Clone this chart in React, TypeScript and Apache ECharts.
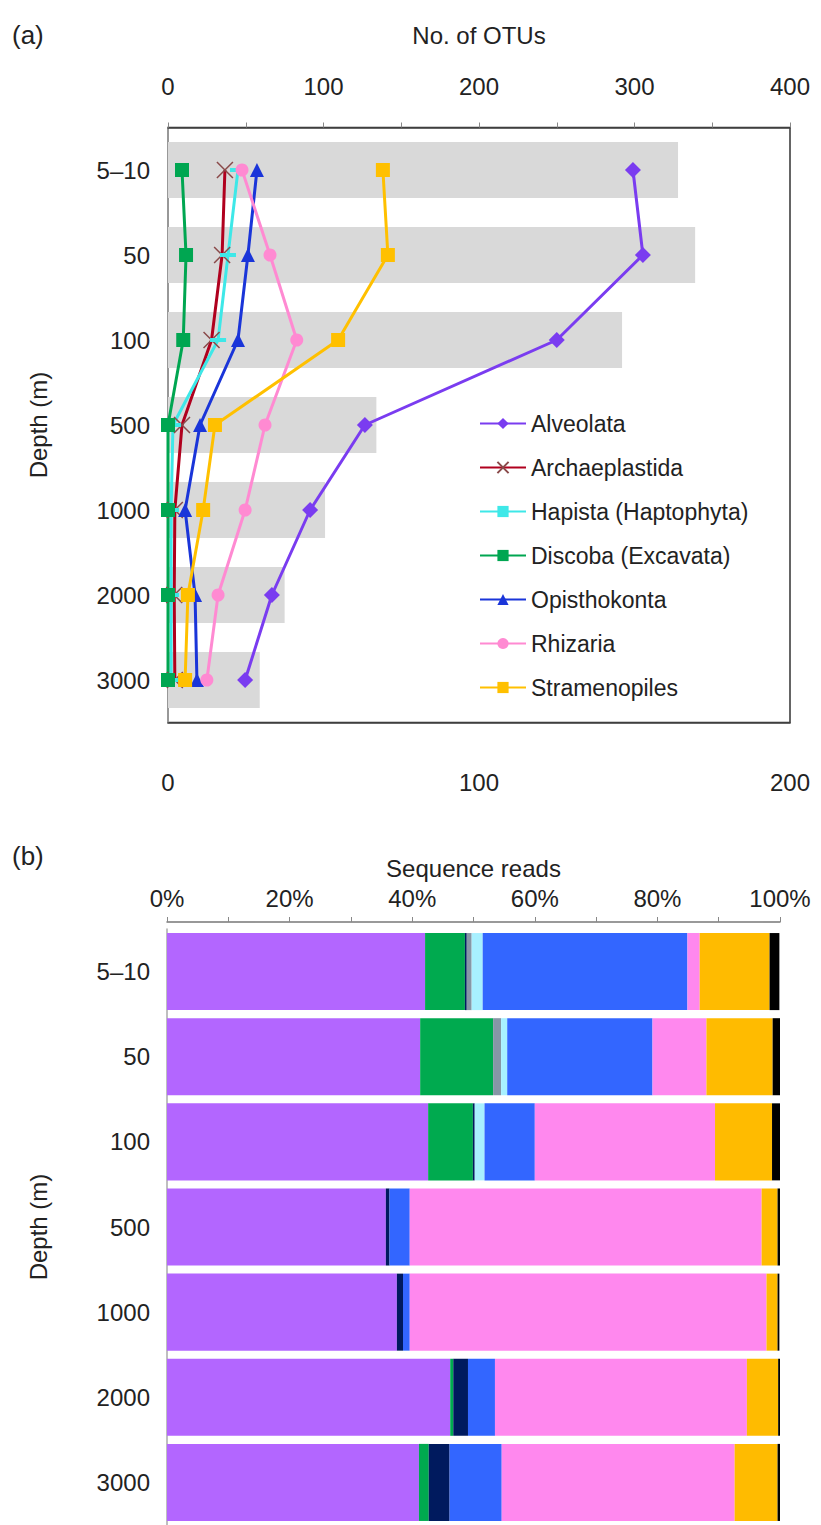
import React, { useEffect, useRef } from "react";
import * as echarts from "echarts";

// ---------- data ----------
const depths = ["5–10", "50", "100", "500", "1000", "2000", "3000"];

// panel (a): grey bars = total OTUs (top axis, 0–400)
const totalOtus = [328, 339, 292, 134, 101, 75, 59];

// panel (a): lines = OTUs per supergroup (bottom axis, 0–200)
const alveolata = [149.5, 152.7, 125, 63.3, 45.7, 33.4, 24.8];
const archaeplastida = [18.3, 17.4, 14, 4.5, 2.2, 2, 2.2];
const hapista = [22.5, 19.3, 16.1, 1.6, 1, 1, 1];
const discoba = [4.5, 5.8, 4.9, 0, 0, 0, 0];
const opisthokonta = [28.6, 25.7, 22.5, 10.3, 5.5, 8.7, 9.3];
const rhizaria = [23.8, 32.8, 41.4, 31.2, 24.8, 16.1, 12.5];
const stramenopiles = [69.1, 70.7, 54.7, 15.1, 11.3, 6.4, 5.5];

// panel (b): sequence reads, % (stacked)
const readsAlveolata = [42.1, 41.3, 42.6, 35.7, 37.5, 46.2, 41.1];
const readsDiscoba = [6.5, 11.9, 7.3, 0, 0, 0.5, 1.6];
const readsArchaeplastida = [0.3, 0, 0.3, 0.6, 1.0, 2.4, 3.4];
const readsOther = [0.8, 1.3, 0, 0, 0, 0, 0];
const readsHapista = [1.8, 1.0, 1.6, 0, 0, 0, 0];
const readsOpisthokonta = [33.4, 23.7, 8.2, 3.3, 1.1, 4.4, 8.5];
const readsRhizaria = [2.0, 8.8, 29.4, 57.4, 58.2, 41.1, 38.0];
const readsStramenopiles = [11.4, 10.8, 9.3, 2.6, 1.8, 5.1, 7.0];
const readsUnassigned = [1.6, 1.3, 1.3, 0.4, 0.3, 0.3, 0.4];

const otuTicks = [0, 100, 200, 300, 400];
const lineTicks = [0, 100, 200];
const pctTicks = [0, 20, 40, 60, 80, 100];

const FONT = "'Liberation Sans', Arial, Helvetica, sans-serif";
const TXT = "#222";

export default function App() {
  const ref = useRef<HTMLDivElement>(null);

  useEffect(() => {
    if (!ref.current) return;
    const chart = echarts.init(ref.current, null, { renderer: "svg" });

    const lineDefs = [
      { name: "Alveolata", data: alveolata, color: "#7a3cf0", symbol: "diamond", size: 16 },
      { name: "Archaeplastida", data: archaeplastida, color: "#b0001e", symbol: "path://M0,0L10,10M10,0L0,10", size: 16 },
      { name: "Hapista (Haptophyta)", data: hapista, color: "#3ee8e8", symbol: "rect", size: [16, 4] },
      { name: "Discoba (Excavata)", data: discoba, color: "#00a651", symbol: "rect", size: 14 },
      { name: "Opisthokonta", data: opisthokonta, color: "#1a35d9", symbol: "triangle", size: 14 },
      { name: "Rhizaria", data: rhizaria, color: "#ff8ad2", symbol: "circle", size: 13 },
      { name: "Stramenopiles", data: stramenopiles, color: "#ffc000", symbol: "rect", size: 14 },
    ];

    const lineSeries = lineDefs.map((d) => ({
      type: "line",
      name: d.name,
      xAxisIndex: 1,
      yAxisIndex: 0,
      data: d.data,
      symbol: d.symbol,
      symbolSize: d.size,
      showSymbol: true,
      lineStyle: { color: d.color, width: 3 },
      itemStyle:
        d.name === "Archaeplastida"
          ? { color: "#b0001e", borderColor: "#8a4a4a", borderWidth: 1.5 }
          : { color: d.color },
      z: 3,
    }));

    const barDefs = [
      { name: "r-Alveolata", data: readsAlveolata, color: "#b366ff" },
      { name: "r-Discoba", data: readsDiscoba, color: "#00aa4f" },
      { name: "r-Archaeplastida", data: readsArchaeplastida, color: "#001a5e" },
      { name: "r-Other", data: readsOther, color: "#8796a6" },
      { name: "r-Hapista", data: readsHapista, color: "#a8f0ff" },
      { name: "r-Opisthokonta", data: readsOpisthokonta, color: "#3366ff" },
      { name: "r-Rhizaria", data: readsRhizaria, color: "#ff88ee" },
      { name: "r-Stramenopiles", data: readsStramenopiles, color: "#ffbb00" },
      { name: "r-Unassigned", data: readsUnassigned, color: "#000000" },
    ];

    const barSeries = barDefs.map((d) => ({
      type: "bar",
      name: d.name,
      stack: "reads",
      xAxisIndex: 2,
      yAxisIndex: 1,
      data: d.data,
      barCategoryGap: "9.5%",
      itemStyle: { color: d.color },
    }));

    const option: any = {
      animation: false,
      textStyle: { fontFamily: FONT },
      graphic: [
        { type: "text", left: 12, top: 22, style: { text: "(a)", font: `26px ${FONT}`, fill: TXT } },
        { type: "text", left: 12, top: 843, style: { text: "(b)", font: `26px ${FONT}`, fill: TXT } },
      ],
      legend: {
        data: lineDefs.map((d) => d.name),
        orient: "vertical",
        left: 474,
        top: 407,
        itemWidth: 46,
        itemHeight: 14,
        itemGap: 21,
        textStyle: { fontSize: 23, color: TXT, fontFamily: FONT },
        selectedMode: false,
      },
      grid: [
        {
          left: 168,
          width: 622,
          top: 127.5,
          height: 595,
          show: true,
          borderColor: "#333",
          borderWidth: 1.5,
          backgroundColor: "transparent",
        },
        { left: 167, width: 613, top: 929, height: 596 },
      ],
      xAxis: [
        {
          gridIndex: 0,
          type: "value",
          position: "top",
          min: 0,
          max: 400,
          interval: 100,
          name: "No. of OTUs",
          nameLocation: "middle",
          nameGap: 80,
          nameTextStyle: { fontSize: 24, color: TXT },
          axisLine: { show: true, lineStyle: { color: "#444", width: 1.5 } },
          axisTick: { show: true, length: 5, lineStyle: { color: "#888" } },
          minorTick: { show: true, splitNumber: 2, length: 5, lineStyle: { color: "#888" } },
          splitLine: { show: false },
          axisLabel: {
            fontSize: 24,
            color: TXT,
            margin: 29,
            formatter: (v: number) => (otuTicks.includes(v) ? String(v) : ""),
          },
        },
        {
          gridIndex: 0,
          type: "value",
          position: "bottom",
          min: 0,
          max: 200,
          interval: 100,
          axisLine: { show: true, lineStyle: { color: "#444", width: 1.5 } },
          axisTick: { show: false },
          splitLine: { show: false },
          axisLabel: {
            fontSize: 24,
            color: TXT,
            margin: 48,
            formatter: (v: number) => (lineTicks.includes(v) ? String(v) : ""),
          },
        },
        {
          gridIndex: 1,
          type: "value",
          position: "top",
          offset: 7,
          min: 0,
          max: 100,
          interval: 20,
          name: "Sequence reads",
          nameLocation: "middle",
          nameGap: 42,
          nameTextStyle: { fontSize: 24, color: TXT },
          axisLine: { show: true, lineStyle: { color: "#777", width: 1.5 } },
          axisTick: { show: true, length: 5, lineStyle: { color: "#888" } },
          minorTick: { show: true, splitNumber: 2, length: 5, lineStyle: { color: "#888" } },
          splitLine: { show: false },
          axisLabel: {
            fontSize: 24,
            color: TXT,
            margin: 12,
            formatter: (v: number) => (pctTicks.includes(v) ? `${v}%` : ""),
          },
        },
      ],
      yAxis: [
        {
          gridIndex: 0,
          type: "category",
          data: depths,
          inverse: true,
          name: "Depth (m)",
          nameLocation: "middle",
          nameRotate: 90,
          nameGap: 118,
          nameTextStyle: { fontSize: 24, color: TXT },
          axisLine: { show: true, lineStyle: { color: "#aaa", width: 1.5 } },
          axisTick: { show: false },
          axisLabel: { fontSize: 24, color: TXT, margin: 18 },
        },
        {
          gridIndex: 1,
          type: "category",
          data: depths,
          inverse: true,
          name: "Depth (m)",
          nameLocation: "middle",
          nameRotate: 90,
          nameGap: 117,
          nameTextStyle: { fontSize: 24, color: TXT },
          axisLine: { show: true, lineStyle: { color: "#aaa", width: 1.5 } },
          axisTick: { show: false },
          axisLabel: { fontSize: 24, color: TXT, margin: 17 },
        },
      ],
      series: [
        {
          type: "bar",
          name: "Total OTUs",
          xAxisIndex: 0,
          yAxisIndex: 0,
          data: totalOtus,
          barCategoryGap: "34%",
          itemStyle: { color: "#d9d9d9" },
          z: 1,
        },
        ...lineSeries,
        ...barSeries,
      ],
    };

    chart.setOption(option);
    return () => chart.dispose();
  }, []);

  return (
    <div
      ref={ref}
      style={{ position: "absolute", left: 0, top: 0, width: 821, height: 1525 }}
    />
  );
}
